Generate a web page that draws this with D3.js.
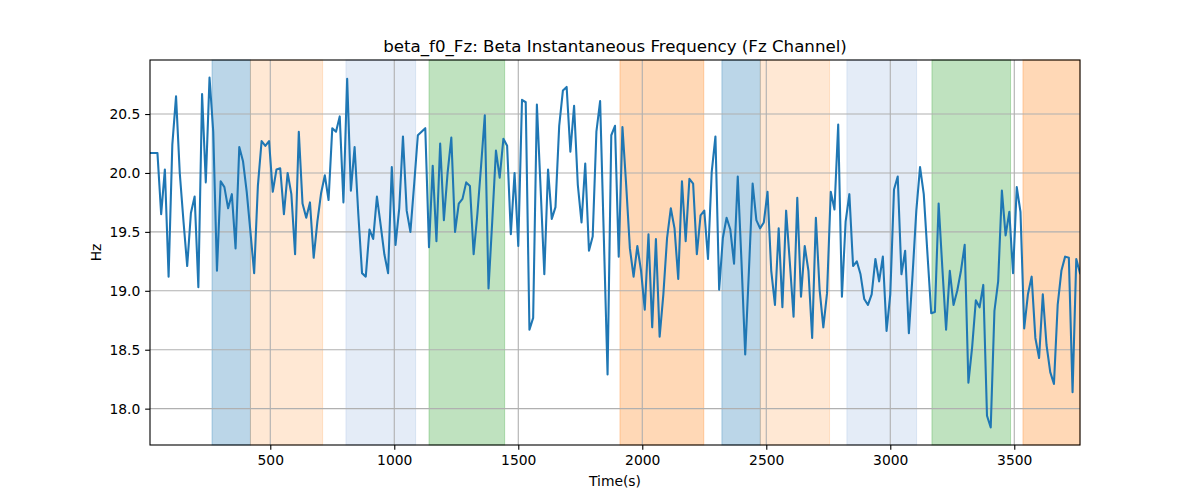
<!DOCTYPE html>
<html>
<head>
<meta charset="utf-8">
<script src="https://cdn.jsdelivr.net/npm/d3@7"></script>
<style>
  html, body { margin: 0; padding: 0; background: #fff; }
  svg text { font-family: "DejaVu Sans", sans-serif; }
</style>
</head>
<body>
<svg id="chart" width="1200" height="500"></svg>
<script>
// ---- data ----
const times = [
  15,30,45,60,75,90,105,120,135,150,165,180,195,210,225,240,255,270,285,300,
  315,330,345,360,375,390,405,420,435,450,465,480,495,510,525,540,555,570,585,600,
  615,630,645,660,675,690,705,720,735,750,765,780,795,810,825,840,855,870,885,900,
  915,930,945,960,975,990,1005,1020,1035,1050,1065,1080,1095,1110,1125,1140,1155,1170,1185,1200,
  1215,1230,1245,1260,1275,1290,1305,1320,1335,1350,1365,1380,1395,1410,1425,1440,1455,1470,1485,1500,
  1515,1530,1545,1560,1575,1590,1605,1620,1635,1650,1665,1680,1695,1710,1725,1740,1755,1770,1785,1800,
  1815,1830,1845,1860,1875,1890,1905,1920,1935,1950,1965,1980,1995,2010,2025,2040,2055,2070,2085,2100,
  2115,2130,2145,2160,2175,2190,2205,2220,2235,2250,2265,2280,2295,2310,2325,2340,2355,2370,2385,2400,
  2415,2430,2445,2460,2475,2490,2505,2520,2535,2550,2565,2580,2595,2610,2625,2640,2655,2670,2685,2700,
  2715,2730,2745,2760,2775,2790,2805,2820,2835,2850,2865,2880,2895,2910,2925,2940,2955,2970,2985,3000,
  3015,3030,3045,3060,3075,3090,3105,3120,3135,3150,3165,3180,3195,3210,3225,3240,3255,3270,3285,3300,
  3315,3330,3345,3360,3375,3390,3405,3420,3435,3450,3465,3480,3495,3510,3525,3540,3555,3570,3585,3600,
  3615,3630,3645,3660,3675,3690,3705,3720,3735,3750,3765
];
const freqHz = [
  20.17,20.17,20.17,19.65,20.03,19.12,20.24,20.65,20.00,19.59,
  19.21,19.66,19.80,19.03,20.67,19.92,20.81,20.35,19.17,19.93,
  19.88,19.70,19.82,19.36,20.22,20.10,19.84,19.50,19.15,19.89,
  20.27,20.23,20.27,19.84,20.03,20.04,19.65,20.00,19.82,19.31,
  20.35,19.74,19.62,19.75,19.28,19.59,19.83,19.98,19.77,20.38,
  20.35,20.48,19.75,20.80,19.85,20.22,19.65,19.15,19.12,19.52,
  19.44,19.80,19.56,19.31,19.15,20.05,19.39,19.70,20.31,19.68,
  19.50,19.90,20.32,20.35,20.38,19.37,20.06,19.42,20.25,19.60,
  20.00,20.30,19.50,19.74,19.78,19.92,19.89,19.31,19.65,20.06,
  20.49,19.02,19.59,20.19,19.96,20.29,20.23,19.48,20.00,19.38,
  20.62,20.60,18.67,18.77,20.58,19.87,19.14,20.03,19.61,19.71,
  20.40,20.70,20.73,20.18,20.57,19.90,19.58,20.08,19.34,19.46,
  20.35,20.61,19.45,18.29,20.32,20.40,19.29,20.39,19.90,19.36,
  19.12,19.38,19.17,18.84,19.48,18.69,19.44,18.61,18.97,19.45,
  19.70,19.53,19.10,19.93,19.42,19.95,19.91,19.31,19.64,19.68,
  19.27,20.01,20.31,19.01,19.45,19.62,19.52,19.23,19.97,19.25,
  18.46,19.17,19.91,19.60,19.53,19.58,19.84,19.17,18.88,19.53,
  18.86,19.68,19.24,18.78,19.79,18.95,19.38,19.17,18.60,19.62,
  19.01,18.69,18.98,19.84,19.69,20.41,18.95,19.59,19.82,19.21,
  19.25,19.14,18.93,18.88,18.97,19.27,19.08,19.29,18.66,18.97,
  19.86,19.97,19.14,19.34,18.64,19.14,19.68,20.05,19.82,19.31,
  18.81,18.82,19.74,19.19,18.67,19.17,18.88,19.00,19.17,19.39,
  18.22,18.52,18.92,18.86,19.05,17.94,17.84,18.83,19.08,19.85,
  19.47,19.67,19.15,19.88,19.67,18.68,18.97,19.12,18.60,18.43,
  18.97,18.54,18.31,18.21,18.88,19.17,19.29,19.28,18.14,19.27,19.15
];
const bandStarts = [265, 420, 805, 1140, 1910, 2321, 2476, 2825, 3168, 3535];
const bandEnds   = [420, 711, 1086, 1445, 2248, 2476, 2755, 3106, 3485, 3765];
const bandColors = ["#1f77b4", "#ff7f0e", "#6996d3", "#2ca02c", "#ff7f0e",
                    "#1f77b4", "#ff7f0e", "#6996d3", "#2ca02c", "#ff7f0e"];
const bandAlphas = [0.3, 0.18, 0.18, 0.3, 0.3, 0.3, 0.18, 0.18, 0.3, 0.3];
const xTicks = [500, 1000, 1500, 2000, 2500, 3000, 3500];
const yTicks = [18.0, 18.5, 19.0, 19.5, 20.0, 20.5];
const titleText = "beta_f0_Fz: Beta Instantaneous Frequency (Fz Channel)";
const xLabel = "Time(s)";
const yLabel = "Hz";

// ---- layout ----
const W = 1200, H = 500;
const m = { left: 150, right: 1080, top: 60, bottom: 445 };
const fs = 13.89;
const svg = d3.select("#chart");

const x = d3.scaleLinear().domain([times[0], times[times.length - 1]]).range([m.left, m.right]);
const yMin = d3.min(freqHz), yMax = d3.max(freqHz), pad = (yMax - yMin) * 0.05;
const y = d3.scaleLinear().domain([yMin - pad, yMax + pad]).range([m.bottom, m.top]);

// bands
const bands = bandStarts.map((s, i) => ({ s, e: bandEnds[i], c: bandColors[i], a: bandAlphas[i] }));
svg.append("g").selectAll("rect").data(bands).join("rect")
  .attr("x", d => x(d.s)).attr("width", d => x(Math.min(d.e, x.domain()[1])) - x(d.s))
  .attr("y", m.top).attr("height", m.bottom - m.top)
  .attr("fill", d => d.c).attr("fill-opacity", d => d.a)
  .attr("stroke", d => d.c).attr("stroke-opacity", d => d.a).attr("stroke-width", 1);

// grid
const grid = svg.append("g");
grid.selectAll("line.gx").data(xTicks).join("line").attr("class", "gx")
  .attr("x1", d => x(d)).attr("x2", d => x(d)).attr("y1", m.top).attr("y2", m.bottom)
  .attr("stroke", "#b0b0b0").attr("stroke-width", 1.1);
grid.selectAll("line.gy").data(yTicks).join("line").attr("class", "gy")
  .attr("x1", m.left).attr("x2", m.right).attr("y1", d => y(d)).attr("y2", d => y(d))
  .attr("stroke", "#b0b0b0").attr("stroke-width", 1.1);

// line
const clipId = "plotclip";
svg.append("clipPath").attr("id", clipId).append("rect")
  .attr("x", m.left).attr("y", m.top).attr("width", m.right - m.left).attr("height", m.bottom - m.top);
svg.append("path")
  .datum(times.map((t, i) => [t, freqHz[i]]))
  .attr("clip-path", `url(#${clipId})`)
  .attr("fill", "none").attr("stroke", "#1f77b4").attr("stroke-width", 2.08)
  .attr("stroke-linejoin", "round").attr("stroke-linecap", "square")
  .attr("d", d3.line().x(d => x(d[0])).y(d => y(d[1])));

// axes
const xAxis = svg.append("g").attr("transform", `translate(0,${m.bottom})`)
  .call(d3.axisBottom(x).tickValues(xTicks).tickFormat(d3.format("d")).tickSize(4.86).tickPadding(4.86));
const yAxis = svg.append("g").attr("transform", `translate(${m.left},0)`)
  .call(d3.axisLeft(y).tickValues(yTicks).tickFormat(d3.format(".1f")).tickSize(4.86).tickPadding(4.86));
[xAxis, yAxis].forEach(g => {
  g.select(".domain").remove();
  g.selectAll(".tick line").attr("stroke", "#000").attr("stroke-width", 1.1);
  g.selectAll(".tick text").attr("font-size", fs).attr("fill", "#000")
    .attr("font-family", "DejaVu Sans, sans-serif");
});

// frame
svg.append("rect").attr("x", m.left).attr("y", m.top)
  .attr("width", m.right - m.left).attr("height", m.bottom - m.top)
  .attr("fill", "none").attr("stroke", "#000").attr("stroke-width", 1.1);

// labels
svg.append("text").attr("x", (m.left + m.right) / 2).attr("y", 52)
  .attr("text-anchor", "middle").attr("font-size", 16.67).attr("fill", "#000").text(titleText);
svg.append("text").attr("x", (m.left + m.right) / 2).attr("y", 486)
  .attr("text-anchor", "middle").attr("font-size", fs).attr("fill", "#000").text(xLabel);
svg.append("text").attr("transform", `translate(101,${(m.top + m.bottom) / 2}) rotate(-90)`)
  .attr("text-anchor", "middle").attr("font-size", fs).attr("fill", "#000").text(yLabel);
</script>
</body>
</html>
